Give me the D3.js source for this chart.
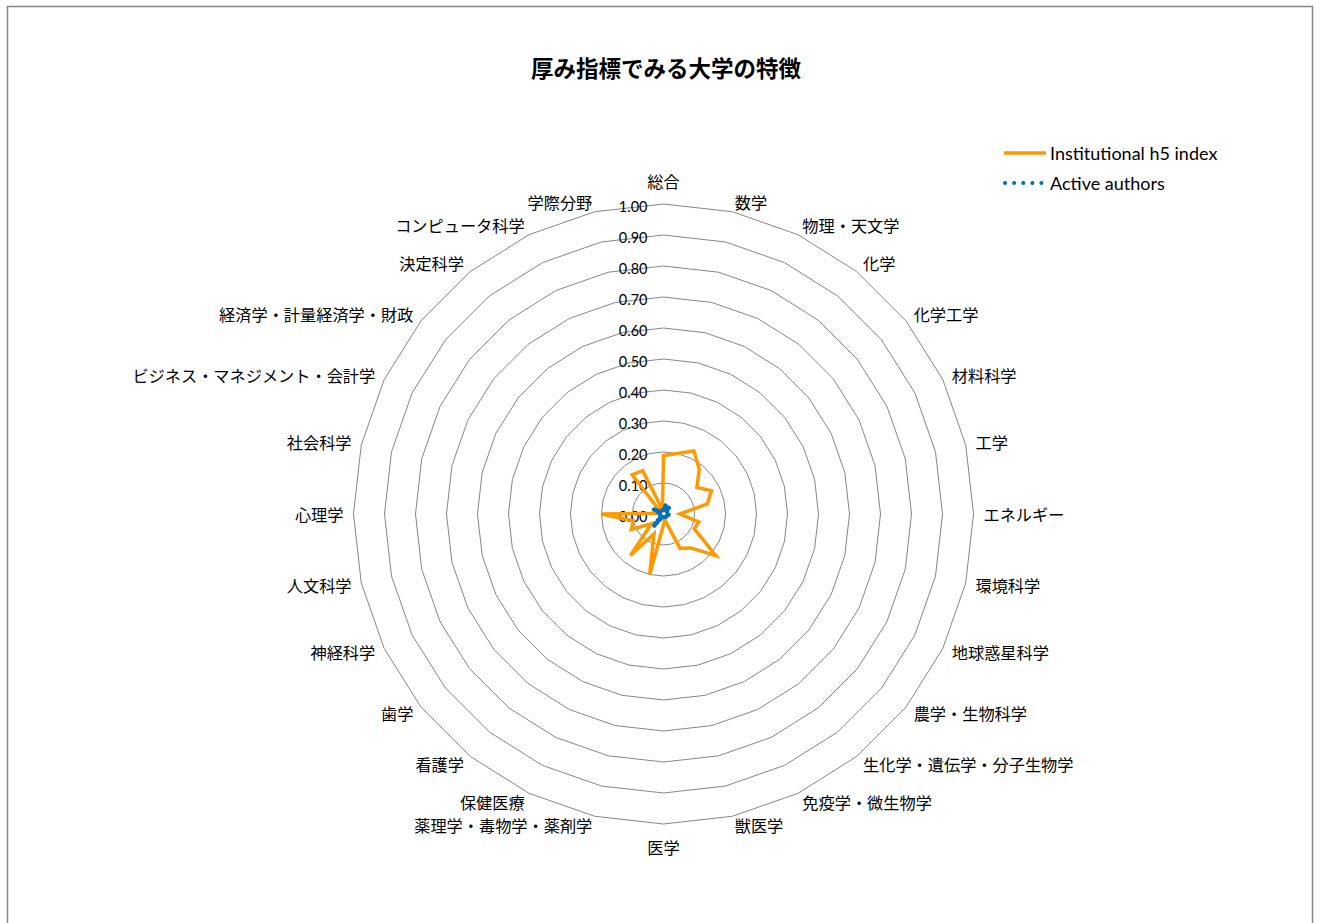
<!DOCTYPE html>
<html>
<head>
<meta charset="utf-8">
<script src="https://cdn.jsdelivr.net/npm/d3@7"></script>
<style>
  body { margin: 0; background: #fff; }
  svg text { font-family: Lato, "Noto Sans CJK JP", sans-serif; fill: #000; }
</style>
</head>
<body>
<script>
// categories (clockwise from top)
var categories = ["総合", "数学", "物理・天文学", "化学", "化学工学", "材料科学", "工学", "エネルギー",
  "環境科学", "地球惑星科学", "農学・生物科学", "生化学・遺伝学・分子生物学", "免疫学・微生物学", "獣医学",
  "医学", "薬理学・毒物学・薬剤学", "保健医療", "看護学", "歯学", "神経科学", "人文科学", "心理学",
  "社会科学", "ビジネス・マネジメント・会計学", "経済学・計量経済学・財政", "決定科学", "コンピュータ科学", "学際分野"];

var h5Index = [0.189, 0.200, 0.226, 0.185, 0.138, 0.172, 0.145, 0.053, 0.117, 0.110, 0.216, 0.140, 0.123, 0.020,
  0.035, 0.200, 0.071, 0.171, 0.050, 0.115, 0.100, 0.200, 0.010, 0.010, 0.015, 0.162, 0.155, 0.015];

var activeAuthors = [0.015, 0.028, 0.012, 0.030, 0.015, 0.012, 0.010, 0.012, 0.020, 0.012, 0.018, 0.012, 0.010, 0.008,
  0.012, 0.010, 0.012, 0.050, 0.010, 0.012, 0.010, 0.012, 0.010, 0.037, 0.012, 0.010, 0.010, 0.010];

var tickValues = [0, 0.1, 0.2, 0.3, 0.4, 0.5, 0.6, 0.7, 0.8, 0.9, 1.0];
var seriesNames = ["Institutional h5 index", "Active authors"];

var W = 1319, H = 923;
var cx = 663.5, cy = 514, R = 310;

var svg = d3.select("body").append("svg").attr("width", W).attr("height", H);

// chart border
svg.append("rect").attr("x", 7.5).attr("y", 6.5).attr("width", 1305).attr("height", 940)
  .style("fill", "none").style("stroke", "#868686").style("stroke-width", "1.5px");

svg.append("text").attr("x", 666).attr("y", 68).attr("text-anchor", "middle").attr("dominant-baseline", "central")
  .style("font-size", "22.5px").style("font-weight", "bold").text("厚み指標でみる大学の特徴");

var n = categories.length;
var r = d3.scaleLinear().domain([0, 1]).range([0, R]);
var ang = d3.scaleLinear().domain([0, n]).range([0, 2 * Math.PI]);

var g = svg.append("g").attr("transform", "translate(" + cx + "," + cy + ")");

// grid rings
var ring = d3.lineRadial().angle(function(d, i) { return ang(i); }).radius(function(d) { return r(d); })
  .curve(d3.curveLinearClosed);
tickValues.slice(1).forEach(function(t) {
  g.append("path").attr("d", ring(categories.map(function() { return t; })))
    .style("fill", "none").style("stroke", "#868686").style("stroke-width", "1px");
});

// tick labels
g.selectAll(".tick").data(tickValues).enter().append("text")
  .attr("x", -16).attr("y", function(d) { return -r(d) + 2; })
  .attr("text-anchor", "end").attr("dominant-baseline", "central")
  .style("font-size", "14.5px").text(function(d) { return d.toFixed(2); });

// category labels
categories.forEach(function(c, i) {
  var a = ang(i), s = Math.sin(a), co = Math.cos(a);
  var vx = r(1) * s, vy = -r(1) * co;
  var anchor = Math.abs(s) < 0.01 ? "middle" : (s > 0 ? "start" : "end");
  var x = vx + s * 10, y = vy - co * 10;
  if (anchor === "middle") y = vy - co * 23;
  g.append("text").attr("x", x).attr("y", y).attr("text-anchor", anchor).attr("dominant-baseline", "central")
    .style("font-size", "16.2px").text(c);
});

// series
var line = d3.lineRadial().angle(function(d, i) { return ang(i); }).radius(function(d) { return r(d); })
  .curve(d3.curveLinearClosed);

g.append("path").attr("d", line(h5Index)).style("fill", "none").style("stroke", "#FF9900")
  .style("stroke-width", "3.5px").style("stroke-linejoin", "miter");

g.append("path").attr("d", line(activeAuthors)).style("fill", "none").style("stroke", "#0070C0")
  .style("stroke-width", "4.5px").style("stroke-linecap", "round").style("stroke-dasharray", "0.1 4");

// legend
var leg = svg.append("g");
leg.append("line").attr("x1", 1004).attr("x2", 1046).attr("y1", 153).attr("y2", 153)
  .style("stroke", "#FF9900").style("stroke-width", "3.5px");
leg.append("line").attr("x1", 1005).attr("x2", 1046).attr("y1", 183).attr("y2", 183)
  .style("stroke", "#0070C0").style("stroke-width", "4px").style("stroke-linecap", "round")
  .style("stroke-dasharray", "0.1 9");
seriesNames.forEach(function(s, i) {
  leg.append("text").attr("x", 1050).attr("y", 153 + i * 30).attr("dominant-baseline", "central")
    .style("font-size", "18px").text(s);
});
</script>
</body>
</html>
